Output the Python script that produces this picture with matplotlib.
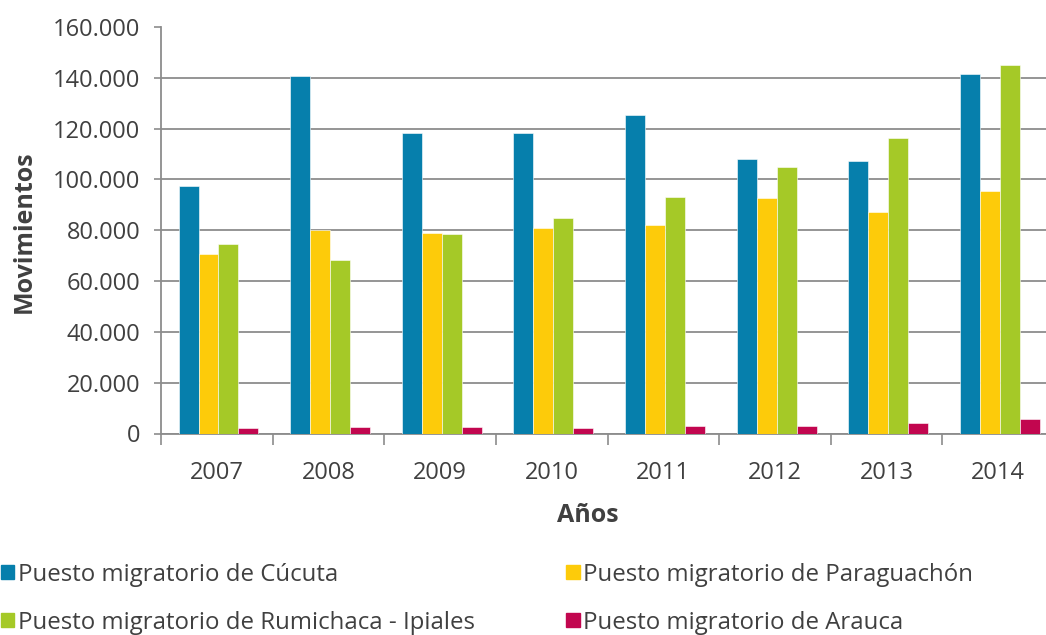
import matplotlib
matplotlib.use("Agg")
from matplotlib import pyplot as plt
from matplotlib.ticker import FuncFormatter, FixedLocator, NullFormatter
import matplotlib.patches as patches
import numpy as np

plt.rcParams['font.family'] = ['Open Sans', 'DejaVu Sans']

years = ['2007', '2008', '2009', '2010', '2011', '2012', '2013', '2014']
cucuta = [97400, 140800, 118200, 118200, 125400, 107900, 107100, 141500]
paraguachon = [70700, 80000, 78900, 80800, 81900, 92800, 87100, 95400]
rumichaca = [74700, 68400, 78400, 84700, 92900, 105000, 116400, 145100]
arauca = [2000, 2500, 2500, 2100, 2900, 3000, 4100, 5600]

series_names = ['Puesto migratorio de Cúcuta', 'Puesto migratorio de Paraguachón',
                'Puesto migratorio de Rumichaca - Ipiales', 'Puesto migratorio de Arauca']
series_colors = ['#067fac', '#fdcb0a', '#a5c927', '#c2064f']

text_color = '#404040'
line_color = '#8c8c8c'

fig = plt.figure(figsize=(10.46, 6.35), dpi=100)
ax = fig.add_axes([161 / 1046, 1 - 433.5 / 635, 893 / 1046, 406.5 / 635])

x = np.arange(len(years))
w = 0.179
bars = []
for i, (vals, col) in enumerate(zip([cucuta, paraguachon, rumichaca, arauca], series_colors)):
    b = ax.bar(x + (i - 1.5) * w + 0.015, vals, width=w, color=col,
               edgecolor='#ffffff', linewidth=0.4, zorder=3)
    bars.append(b)

ax.set_xlim(-0.5, len(years) - 0.5)
ax.set_ylim(0, 160000)
ax.set_yticks(np.arange(0, 160001, 20000))
ax.yaxis.set_major_formatter(FuncFormatter(lambda v, p: f"{v:,.0f}".replace(",", ".")))

# ticks at the category borders, labels at the centres
ax.xaxis.set_major_locator(FixedLocator(np.arange(-0.5, len(years), 1.0)))
ax.xaxis.set_major_formatter(NullFormatter())
ax.xaxis.set_minor_locator(FixedLocator(x))
ax.set_xticklabels(years, minor=True)
ax.tick_params(axis='x', which='major', length=8, width=1.2, color=line_color, direction='out')
ax.tick_params(axis='x', which='minor', length=0, pad=20, labelsize=17, labelcolor=text_color)
ax.tick_params(axis='y', length=5, width=1.2, color=line_color, pad=10, labelsize=17, labelcolor=text_color)

ax.yaxis.grid(True, color=line_color, linewidth=1.3, zorder=0)
ax.set_axisbelow(True)
ax.yaxis.get_gridlines()[-1].set_visible(False)

for s in ['top', 'right']:
    ax.spines[s].set_visible(False)
for s in ['left', 'bottom']:
    ax.spines[s].set_color(line_color)
    ax.spines[s].set_linewidth(1.3)

ax.set_ylabel('Movimientos', fontsize=18, fontweight='bold', color=text_color)
ax.set_xlabel('Años', fontsize=18, fontweight='bold', color=text_color)
ax.yaxis.set_label_coords(-0.1395, 0.497)
ax.xaxis.set_label_coords(0.478, -0.170)

handles = [patches.Patch(color=c) for c in series_colors]
order = [0, 2, 1, 3]
fig.legend([handles[k] for k in order], [series_names[k] for k in order],
           loc='upper left', bbox_to_anchor=(-0.008, 1 - 553 / 635), ncol=2, frameon=False,
           fontsize=17.3, labelcolor=text_color, handlelength=0.55, handleheight=0.55,
           handletextpad=0.15, columnspacing=3.8, labelspacing=1.0, borderaxespad=0)

fig.savefig('out.png', dpi=100)
